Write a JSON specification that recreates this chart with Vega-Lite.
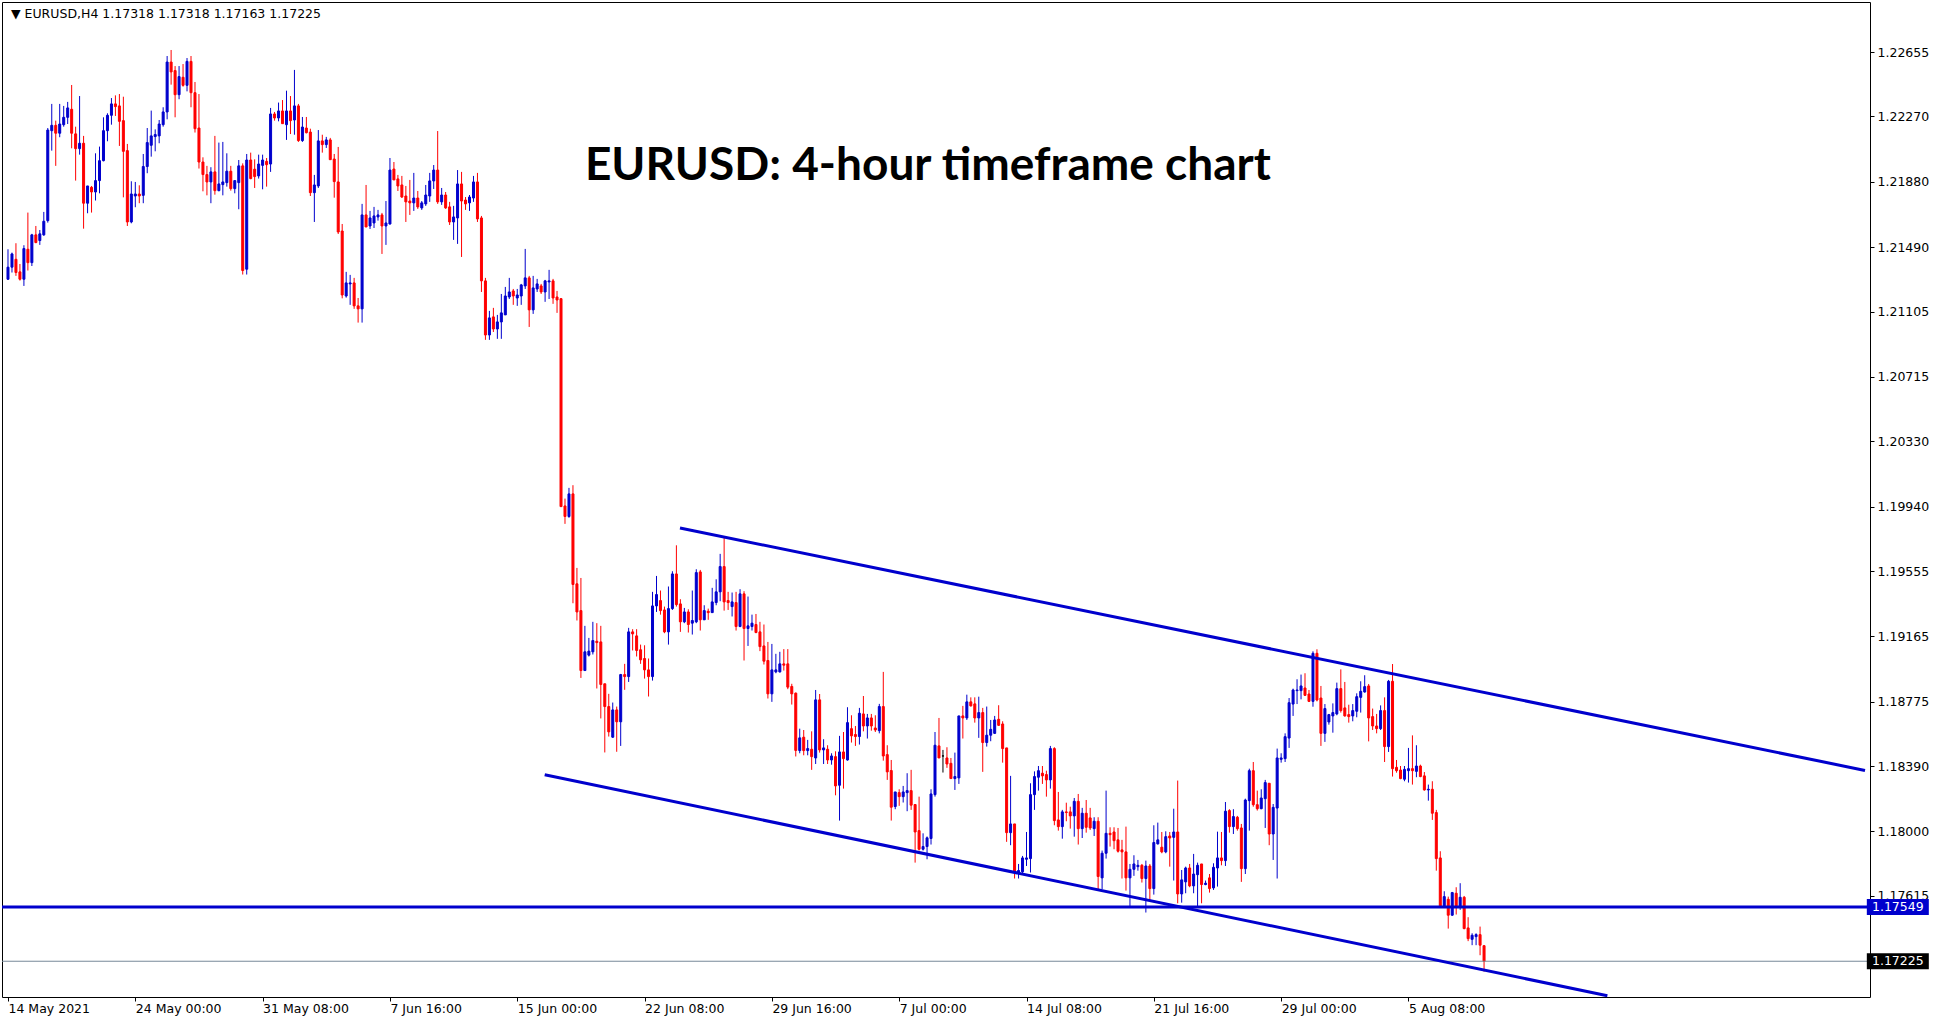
{
"$schema": "https://vega.github.io/schema/vega-lite/v6.json",
"width": 1868,
"height": 995,
"autosize": {"type": "none"},
"padding": {"left": 2, "top": 2, "right": 72, "bottom": 26},
"background": "white",
"config": {"view": {"stroke": "black", "strokeWidth": 1}, "font": "DejaVu Sans"},
"datasets": {
"candles": [
{"i":0,"o":1.21298,"h":1.21477,"l":1.21294,"c":1.2137},
{"i":1,"o":1.2137,"h":1.21457,"l":1.21338,"c":1.21449},
{"i":2,"o":1.21417,"h":1.21513,"l":1.21318,"c":1.21338},
{"i":3,"o":1.21342,"h":1.21389,"l":1.2129,"c":1.21298},
{"i":4,"o":1.21298,"h":1.21501,"l":1.21258,"c":1.21481},
{"i":5,"o":1.21477,"h":1.21696,"l":1.2135,"c":1.21397},
{"i":6,"o":1.21397,"h":1.21569,"l":1.21377,"c":1.21563},
{"i":7,"o":1.21563,"h":1.21616,"l":1.21513,"c":1.21517},
{"i":8,"o":1.21529,"h":1.21592,"l":1.21503,"c":1.21569},
{"i":9,"o":1.21563,"h":1.217,"l":1.21557,"c":1.21644},
{"i":10,"o":1.21648,"h":1.22201,"l":1.21636,"c":1.22189},
{"i":11,"o":1.22185,"h":1.22345,"l":1.22066,"c":1.22217},
{"i":12,"o":1.22217,"h":1.22245,"l":1.21975,"c":1.2217},
{"i":13,"o":1.2217,"h":1.22345,"l":1.22146,"c":1.22225},
{"i":14,"o":1.22221,"h":1.22333,"l":1.22209,"c":1.22265},
{"i":15,"o":1.22265,"h":1.22357,"l":1.22225,"c":1.22321},
{"i":16,"o":1.22313,"h":1.22458,"l":1.2208,"c":1.2217},
{"i":17,"o":1.22166,"h":1.22209,"l":1.21887,"c":1.22078},
{"i":18,"o":1.22078,"h":1.22392,"l":1.22042,"c":1.2211},
{"i":19,"o":1.2211,"h":1.22154,"l":1.216,"c":1.21752},
{"i":20,"o":1.21752,"h":1.21855,"l":1.21692,"c":1.21855},
{"i":21,"o":1.21847,"h":1.21855,"l":1.21696,"c":1.21819},
{"i":22,"o":1.21819,"h":1.2205,"l":1.21768,"c":1.21887},
{"i":23,"o":1.21887,"h":1.2209,"l":1.21811,"c":1.22006},
{"i":24,"o":1.22006,"h":1.22265,"l":1.22002,"c":1.22185},
{"i":25,"o":1.22185,"h":1.22289,"l":1.22122,"c":1.22277},
{"i":26,"o":1.22277,"h":1.2238,"l":1.22221,"c":1.22345},
{"i":27,"o":1.22345,"h":1.22396,"l":1.22273,"c":1.22329},
{"i":28,"o":1.22333,"h":1.22404,"l":1.22094,"c":1.22241},
{"i":29,"o":1.22245,"h":1.22388,"l":1.21787,"c":1.22062},
{"i":30,"o":1.22066,"h":1.22106,"l":1.21616,"c":1.2164},
{"i":31,"o":1.2164,"h":1.21883,"l":1.21632,"c":1.21807},
{"i":32,"o":1.21795,"h":1.21879,"l":1.21728,"c":1.21807},
{"i":33,"o":1.21807,"h":1.21859,"l":1.21752,"c":1.21795},
{"i":34,"o":1.21799,"h":1.22046,"l":1.21752,"c":1.21971},
{"i":35,"o":1.21971,"h":1.22201,"l":1.21931,"c":1.22114},
{"i":36,"o":1.22098,"h":1.22305,"l":1.2203,"c":1.22154},
{"i":37,"o":1.2215,"h":1.22193,"l":1.22062,"c":1.22162},
{"i":38,"o":1.22154,"h":1.22249,"l":1.2211,"c":1.22225},
{"i":39,"o":1.22221,"h":1.22325,"l":1.22209,"c":1.22297},
{"i":40,"o":1.22297,"h":1.22631,"l":1.22253,"c":1.22595},
{"i":41,"o":1.22595,"h":1.22667,"l":1.2246,"c":1.22536},
{"i":42,"o":1.22544,"h":1.22571,"l":1.22265,"c":1.224},
{"i":43,"o":1.224,"h":1.22571,"l":1.22373,"c":1.22508},
{"i":44,"o":1.22504,"h":1.22583,"l":1.22448,"c":1.22456},
{"i":45,"o":1.22456,"h":1.22619,"l":1.2242,"c":1.22599},
{"i":46,"o":1.22599,"h":1.22631,"l":1.22325,"c":1.22412},
{"i":47,"o":1.22412,"h":1.22476,"l":1.22174,"c":1.22197},
{"i":48,"o":1.22201,"h":1.22404,"l":1.21959,"c":1.21998},
{"i":49,"o":1.21998,"h":1.22026,"l":1.21823,"c":1.21923},
{"i":50,"o":1.21923,"h":1.21975,"l":1.21799,"c":1.21879},
{"i":51,"o":1.21879,"h":1.21967,"l":1.21752,"c":1.21939},
{"i":52,"o":1.21939,"h":1.22154,"l":1.21803,"c":1.21827},
{"i":53,"o":1.21827,"h":1.22114,"l":1.21823,"c":1.21867},
{"i":54,"o":1.21863,"h":1.22118,"l":1.21799,"c":1.21879},
{"i":55,"o":1.21875,"h":1.2205,"l":1.21851,"c":1.21943},
{"i":56,"o":1.21943,"h":1.21975,"l":1.21827,"c":1.21839},
{"i":57,"o":1.21839,"h":1.21887,"l":1.21811,"c":1.21887},
{"i":58,"o":1.21875,"h":1.2201,"l":1.21716,"c":1.21975},
{"i":59,"o":1.21975,"h":1.2199,"l":1.21326,"c":1.2135},
{"i":60,"o":1.21358,"h":1.22046,"l":1.21326,"c":1.2201},
{"i":61,"o":1.2201,"h":1.22054,"l":1.21895,"c":1.21899},
{"i":62,"o":1.21955,"h":1.22014,"l":1.21843,"c":1.21911},
{"i":63,"o":1.21915,"h":1.22042,"l":1.21899,"c":1.21986},
{"i":64,"o":1.21978,"h":1.22042,"l":1.21835,"c":1.2201},
{"i":65,"o":1.22002,"h":1.22022,"l":1.21851,"c":1.21982},
{"i":66,"o":1.21986,"h":1.22321,"l":1.21939,"c":1.22285},
{"i":67,"o":1.22285,"h":1.22297,"l":1.22245,"c":1.22261},
{"i":68,"o":1.22261,"h":1.22353,"l":1.22241,"c":1.22303},
{"i":69,"o":1.22303,"h":1.22368,"l":1.22225,"c":1.22227},
{"i":70,"o":1.22221,"h":1.22424,"l":1.2213,"c":1.22303},
{"i":71,"o":1.22303,"h":1.22392,"l":1.22165,"c":1.22245},
{"i":72,"o":1.22249,"h":1.22548,"l":1.22161,"c":1.22333},
{"i":73,"o":1.22333,"h":1.22345,"l":1.22118,"c":1.22126},
{"i":74,"o":1.22126,"h":1.22267,"l":1.22118,"c":1.22207},
{"i":75,"o":1.22201,"h":1.22267,"l":1.22169,"c":1.22173},
{"i":76,"o":1.22177,"h":1.22197,"l":1.21795,"c":1.21815},
{"i":77,"o":1.21815,"h":1.21921,"l":1.2164,"c":1.21861},
{"i":78,"o":1.21855,"h":1.22189,"l":1.21843,"c":1.22124},
{"i":79,"o":1.22124,"h":1.22161,"l":1.22054,"c":1.22102},
{"i":80,"o":1.22102,"h":1.22148,"l":1.22082,"c":1.2213},
{"i":81,"o":1.2213,"h":1.22142,"l":1.2201,"c":1.22012},
{"i":82,"o":1.22016,"h":1.22046,"l":1.21785,"c":1.21881},
{"i":83,"o":1.21879,"h":1.22088,"l":1.21568,"c":1.2158},
{"i":84,"o":1.21586,"h":1.21628,"l":1.21184,"c":1.21204},
{"i":85,"o":1.21198,"h":1.21342,"l":1.21188,"c":1.21276},
{"i":86,"o":1.2127,"h":1.21324,"l":1.21145,"c":1.21276},
{"i":87,"o":1.21276,"h":1.21306,"l":1.21121,"c":1.21139},
{"i":88,"o":1.21139,"h":1.21186,"l":1.21039,"c":1.21121},
{"i":89,"o":1.21121,"h":1.21748,"l":1.21039,"c":1.21682},
{"i":90,"o":1.21682,"h":1.21861,"l":1.2161,"c":1.2161},
{"i":91,"o":1.21616,"h":1.21706,"l":1.21598,"c":1.21664},
{"i":92,"o":1.21634,"h":1.2173,"l":1.21604,"c":1.21676},
{"i":93,"o":1.2167,"h":1.21712,"l":1.21648,"c":1.21682},
{"i":94,"o":1.21682,"h":1.21694,"l":1.21449,"c":1.21616},
{"i":95,"o":1.21616,"h":1.21765,"l":1.21503,"c":1.21634},
{"i":96,"o":1.21628,"h":1.22022,"l":1.21624,"c":1.2195},
{"i":97,"o":1.21956,"h":1.21998,"l":1.21891,"c":1.21891},
{"i":98,"o":1.21897,"h":1.21921,"l":1.21825,"c":1.21855},
{"i":99,"o":1.21861,"h":1.21915,"l":1.21783,"c":1.21789},
{"i":100,"o":1.21795,"h":1.21855,"l":1.2164,"c":1.2176},
{"i":101,"o":1.21765,"h":1.21891,"l":1.21682,"c":1.21754},
{"i":102,"o":1.21754,"h":1.21933,"l":1.21706,"c":1.21783},
{"i":103,"o":1.21783,"h":1.21825,"l":1.21718,"c":1.2173},
{"i":104,"o":1.21724,"h":1.21765,"l":1.21712,"c":1.21754},
{"i":105,"o":1.21748,"h":1.21861,"l":1.21736,"c":1.21801},
{"i":106,"o":1.21795,"h":1.21933,"l":1.2176,"c":1.21885},
{"i":107,"o":1.21885,"h":1.2198,"l":1.21837,"c":1.2195},
{"i":108,"o":1.2195,"h":1.22183,"l":1.21748,"c":1.2176},
{"i":109,"o":1.2176,"h":1.21843,"l":1.21742,"c":1.21801},
{"i":110,"o":1.21801,"h":1.21819,"l":1.21718,"c":1.21724},
{"i":111,"o":1.2173,"h":1.2176,"l":1.21622,"c":1.2164},
{"i":112,"o":1.2164,"h":1.21736,"l":1.21533,"c":1.2167},
{"i":113,"o":1.21664,"h":1.2195,"l":1.21509,"c":1.21867},
{"i":114,"o":1.21867,"h":1.21939,"l":1.21431,"c":1.21765},
{"i":115,"o":1.21771,"h":1.21789,"l":1.21712,"c":1.21748},
{"i":116,"o":1.21754,"h":1.21801,"l":1.21706,"c":1.21789},
{"i":117,"o":1.21783,"h":1.21915,"l":1.2176,"c":1.21879},
{"i":118,"o":1.21879,"h":1.21933,"l":1.2164,"c":1.21658},
{"i":119,"o":1.21664,"h":1.21676,"l":1.21222,"c":1.21288},
{"i":120,"o":1.21288,"h":1.21306,"l":1.20936,"c":1.20965},
{"i":121,"o":1.20965,"h":1.21109,"l":1.20936,"c":1.21067},
{"i":122,"o":1.21073,"h":1.21127,"l":1.20983,"c":1.21001},
{"i":123,"o":1.21001,"h":1.21085,"l":1.20942,"c":1.21043},
{"i":124,"o":1.21043,"h":1.2121,"l":1.20942,"c":1.21097},
{"i":125,"o":1.21085,"h":1.21252,"l":1.21085,"c":1.21198},
{"i":126,"o":1.21192,"h":1.21306,"l":1.2118,"c":1.21222},
{"i":127,"o":1.21228,"h":1.2124,"l":1.21145,"c":1.21198},
{"i":128,"o":1.21186,"h":1.2124,"l":1.21139,"c":1.21204},
{"i":129,"o":1.21198,"h":1.2127,"l":1.21145,"c":1.21264},
{"i":130,"o":1.21258,"h":1.21479,"l":1.2124,"c":1.21306},
{"i":131,"o":1.21306,"h":1.21318,"l":1.21013,"c":1.21115},
{"i":132,"o":1.21115,"h":1.21318,"l":1.21091,"c":1.21246},
{"i":133,"o":1.2124,"h":1.213,"l":1.21222,"c":1.2127},
{"i":134,"o":1.21258,"h":1.2127,"l":1.2121,"c":1.21222},
{"i":135,"o":1.21222,"h":1.21294,"l":1.21163,"c":1.21288},
{"i":136,"o":1.21282,"h":1.21354,"l":1.2118,"c":1.21288},
{"i":137,"o":1.21288,"h":1.213,"l":1.21151,"c":1.21186},
{"i":138,"o":1.21192,"h":1.21228,"l":1.21097,"c":1.21174},
{"i":139,"o":1.21182,"h":1.21182,"l":1.1994,"c":1.1994},
{"i":140,"o":1.19944,"h":1.19988,"l":1.19837,"c":1.19881},
{"i":141,"o":1.19881,"h":1.20052,"l":1.19873,"c":1.20016},
{"i":142,"o":1.20016,"h":1.20068,"l":1.19363,"c":1.19475},
{"i":143,"o":1.19479,"h":1.19574,"l":1.1926,"c":1.19311},
{"i":144,"o":1.19319,"h":1.19514,"l":1.18917,"c":1.18961},
{"i":145,"o":1.18961,"h":1.19228,"l":1.18961,"c":1.19073},
{"i":146,"o":1.19053,"h":1.19156,"l":1.19045,"c":1.19077},
{"i":147,"o":1.19073,"h":1.19252,"l":1.19057,"c":1.1914},
{"i":148,"o":1.19136,"h":1.19244,"l":1.18854,"c":1.19128},
{"i":149,"o":1.19132,"h":1.19228,"l":1.18675,"c":1.18878},
{"i":150,"o":1.18882,"h":1.18882,"l":1.18472,"c":1.18746},
{"i":151,"o":1.18746,"h":1.18822,"l":1.18567,"c":1.18595},
{"i":152,"o":1.18563,"h":1.1877,"l":1.18559,"c":1.18726},
{"i":153,"o":1.18726,"h":1.18746,"l":1.18476,"c":1.18655},
{"i":154,"o":1.18655,"h":1.18941,"l":1.18511,"c":1.18937},
{"i":155,"o":1.18937,"h":1.19001,"l":1.18846,"c":1.18925},
{"i":156,"o":1.18925,"h":1.19216,"l":1.18893,"c":1.19192},
{"i":157,"o":1.19192,"h":1.19208,"l":1.19081,"c":1.1918},
{"i":158,"o":1.19168,"h":1.19208,"l":1.19045,"c":1.19081},
{"i":159,"o":1.19085,"h":1.19116,"l":1.19001,"c":1.19025},
{"i":160,"o":1.19033,"h":1.19112,"l":1.18913,"c":1.18965},
{"i":161,"o":1.18965,"h":1.19033,"l":1.18806,"c":1.18925},
{"i":162,"o":1.18925,"h":1.19431,"l":1.18901,"c":1.19347},
{"i":163,"o":1.19347,"h":1.19526,"l":1.19311,"c":1.19415},
{"i":164,"o":1.19379,"h":1.19439,"l":1.19295,"c":1.19319},
{"i":165,"o":1.19323,"h":1.19343,"l":1.19184,"c":1.19192},
{"i":166,"o":1.19192,"h":1.19463,"l":1.19116,"c":1.19331},
{"i":167,"o":1.19331,"h":1.19554,"l":1.19323,"c":1.19538},
{"i":168,"o":1.19538,"h":1.19709,"l":1.19343,"c":1.19355},
{"i":169,"o":1.19359,"h":1.19387,"l":1.19192,"c":1.19252},
{"i":170,"o":1.19252,"h":1.19335,"l":1.19244,"c":1.19311},
{"i":171,"o":1.19311,"h":1.19327,"l":1.19188,"c":1.19236},
{"i":172,"o":1.19244,"h":1.19439,"l":1.19176,"c":1.1926},
{"i":173,"o":1.19252,"h":1.19566,"l":1.19244,"c":1.19546},
{"i":174,"o":1.1955,"h":1.19562,"l":1.192,"c":1.19264},
{"i":175,"o":1.19264,"h":1.19351,"l":1.19264,"c":1.19319},
{"i":176,"o":1.19315,"h":1.19331,"l":1.19264,"c":1.19307},
{"i":177,"o":1.19307,"h":1.19455,"l":1.19307,"c":1.19371},
{"i":178,"o":1.19367,"h":1.19506,"l":1.19351,"c":1.19431},
{"i":179,"o":1.19431,"h":1.19658,"l":1.19375,"c":1.19582},
{"i":180,"o":1.19582,"h":1.19753,"l":1.19319,"c":1.19371},
{"i":181,"o":1.19379,"h":1.19431,"l":1.19323,"c":1.19367},
{"i":182,"o":1.19343,"h":1.19427,"l":1.19284,"c":1.19371},
{"i":183,"o":1.19367,"h":1.19431,"l":1.192,"c":1.19224},
{"i":184,"o":1.19224,"h":1.19447,"l":1.1922,"c":1.19419},
{"i":185,"o":1.19419,"h":1.19435,"l":1.19021,"c":1.19212},
{"i":186,"o":1.19212,"h":1.19403,"l":1.19108,"c":1.19228},
{"i":187,"o":1.19224,"h":1.19295,"l":1.192,"c":1.19244},
{"i":188,"o":1.19236,"h":1.19299,"l":1.19184,"c":1.19188},
{"i":189,"o":1.19192,"h":1.19252,"l":1.19077,"c":1.19104},
{"i":190,"o":1.19108,"h":1.19236,"l":1.18997,"c":1.19017},
{"i":191,"o":1.19021,"h":1.19132,"l":1.18794,"c":1.18822},
{"i":192,"o":1.18822,"h":1.1912,"l":1.18774,"c":1.18965},
{"i":193,"o":1.18953,"h":1.19061,"l":1.18945,"c":1.18965},
{"i":194,"o":1.18953,"h":1.19073,"l":1.18949,"c":1.19001},
{"i":195,"o":1.19001,"h":1.19089,"l":1.18961,"c":1.18993},
{"i":196,"o":1.19001,"h":1.19089,"l":1.1885,"c":1.18862},
{"i":197,"o":1.18866,"h":1.18882,"l":1.18758,"c":1.18822},
{"i":198,"o":1.18826,"h":1.1883,"l":1.18448,"c":1.18484},
{"i":199,"o":1.18483,"h":1.18614,"l":1.18467,"c":1.18559},
{"i":200,"o":1.18563,"h":1.18606,"l":1.18455,"c":1.18483},
{"i":201,"o":1.18483,"h":1.18547,"l":1.18455,"c":1.18495},
{"i":202,"o":1.18491,"h":1.18598,"l":1.18368,"c":1.18447},
{"i":203,"o":1.18439,"h":1.18845,"l":1.18403,"c":1.18786},
{"i":204,"o":1.18786,"h":1.18821,"l":1.18471,"c":1.18487},
{"i":205,"o":1.18487,"h":1.18551,"l":1.18403,"c":1.18499},
{"i":206,"o":1.18491,"h":1.18515,"l":1.18403,"c":1.18427},
{"i":207,"o":1.18427,"h":1.18467,"l":1.18399,"c":1.18451},
{"i":208,"o":1.18447,"h":1.18479,"l":1.18216,"c":1.18272},
{"i":209,"o":1.18276,"h":1.18571,"l":1.18065,"c":1.18475},
{"i":210,"o":1.18475,"h":1.18594,"l":1.18256,"c":1.18435},
{"i":211,"o":1.18427,"h":1.18742,"l":1.18423,"c":1.1865},
{"i":212,"o":1.18614,"h":1.18694,"l":1.18531,"c":1.18571},
{"i":213,"o":1.18579,"h":1.1863,"l":1.18511,"c":1.18567},
{"i":214,"o":1.18567,"h":1.18738,"l":1.18519,"c":1.18706},
{"i":215,"o":1.18702,"h":1.18809,"l":1.18598,"c":1.1863},
{"i":216,"o":1.1863,"h":1.18702,"l":1.18555,"c":1.18678},
{"i":217,"o":1.18678,"h":1.18702,"l":1.18602,"c":1.1863},
{"i":218,"o":1.18618,"h":1.18694,"l":1.18594,"c":1.18606},
{"i":219,"o":1.18602,"h":1.18762,"l":1.18586,"c":1.18746},
{"i":220,"o":1.18746,"h":1.18953,"l":1.18423,"c":1.18451},
{"i":221,"o":1.18459,"h":1.18515,"l":1.18308,"c":1.18356},
{"i":222,"o":1.18364,"h":1.18427,"l":1.18065,"c":1.18145},
{"i":223,"o":1.18149,"h":1.18236,"l":1.18133,"c":1.18236},
{"i":224,"o":1.18232,"h":1.18252,"l":1.18153,"c":1.18208},
{"i":225,"o":1.18208,"h":1.18272,"l":1.18173,"c":1.18236},
{"i":226,"o":1.18232,"h":1.18348,"l":1.18121,"c":1.18244},
{"i":227,"o":1.18244,"h":1.18368,"l":1.18129,"c":1.18157},
{"i":228,"o":1.18161,"h":1.18161,"l":1.17814,"c":1.17997},
{"i":229,"o":1.18005,"h":1.18208,"l":1.17886,"c":1.17894},
{"i":230,"o":1.17894,"h":1.17989,"l":1.17886,"c":1.1791},
{"i":231,"o":1.1791,"h":1.1797,"l":1.17834,"c":1.17962},
{"i":232,"o":1.17958,"h":1.18252,"l":1.17922,"c":1.18224},
{"i":233,"o":1.1822,"h":1.18594,"l":1.18208,"c":1.18515},
{"i":234,"o":1.18511,"h":1.18678,"l":1.18439,"c":1.18439},
{"i":235,"o":1.18451,"h":1.18487,"l":1.18352,"c":1.18451},
{"i":236,"o":1.18439,"h":1.18503,"l":1.1838,"c":1.18403},
{"i":237,"o":1.18407,"h":1.18439,"l":1.18316,"c":1.18316},
{"i":238,"o":1.18316,"h":1.18471,"l":1.18248,"c":1.18328},
{"i":239,"o":1.1832,"h":1.1869,"l":1.18284,"c":1.1869},
{"i":240,"o":1.1869,"h":1.1875,"l":1.18555,"c":1.18678},
{"i":241,"o":1.18678,"h":1.18817,"l":1.18666,"c":1.18774},
{"i":242,"o":1.18774,"h":1.18801,"l":1.18746,"c":1.1875},
{"i":243,"o":1.18762,"h":1.18801,"l":1.1865,"c":1.18678},
{"i":244,"o":1.18678,"h":1.18805,"l":1.18559,"c":1.1871},
{"i":245,"o":1.1871,"h":1.18738,"l":1.18356,"c":1.18531},
{"i":246,"o":1.18531,"h":1.18746,"l":1.18507,"c":1.18575},
{"i":247,"o":1.18575,"h":1.18666,"l":1.18539,"c":1.1861},
{"i":248,"o":1.18586,"h":1.1869,"l":1.18582,"c":1.18666},
{"i":249,"o":1.1867,"h":1.18754,"l":1.1863,"c":1.18634},
{"i":250,"o":1.18642,"h":1.18658,"l":1.18411,"c":1.18495},
{"i":251,"o":1.18499,"h":1.18499,"l":1.17938,"c":1.17993},
{"i":252,"o":1.17993,"h":1.18332,"l":1.17918,"c":1.18045},
{"i":253,"o":1.18045,"h":1.18045,"l":1.17719,"c":1.17755},
{"i":254,"o":1.17755,"h":1.17806,"l":1.17719,"c":1.17767},
{"i":255,"o":1.17759,"h":1.17854,"l":1.17751,"c":1.17842},
{"i":256,"o":1.17834,"h":1.17997,"l":1.17794,"c":1.17842},
{"i":257,"o":1.17838,"h":1.18288,"l":1.17755,"c":1.1822},
{"i":258,"o":1.1822,"h":1.18359,"l":1.18129,"c":1.18328},
{"i":259,"o":1.18324,"h":1.18391,"l":1.18244,"c":1.18363},
{"i":260,"o":1.18348,"h":1.18391,"l":1.18284,"c":1.18332},
{"i":261,"o":1.1834,"h":1.18363,"l":1.18208,"c":1.18308},
{"i":262,"o":1.18308,"h":1.18511,"l":1.18256,"c":1.18495},
{"i":263,"o":1.18495,"h":1.18503,"l":1.18037,"c":1.18065},
{"i":264,"o":1.18069,"h":1.18236,"l":1.18005,"c":1.18029},
{"i":265,"o":1.18029,"h":1.18129,"l":1.17957,"c":1.18117},
{"i":266,"o":1.18117,"h":1.18172,"l":1.18061,"c":1.18113},
{"i":267,"o":1.18117,"h":1.18148,"l":1.18017,"c":1.18093},
{"i":268,"o":1.18093,"h":1.182,"l":1.17969,"c":1.1818},
{"i":269,"o":1.1818,"h":1.18224,"l":1.17922,"c":1.18017},
{"i":270,"o":1.18017,"h":1.18141,"l":1.17961,"c":1.18109},
{"i":271,"o":1.18109,"h":1.18188,"l":1.17993,"c":1.18025},
{"i":272,"o":1.18081,"h":1.18141,"l":1.18009,"c":1.18021},
{"i":273,"o":1.18017,"h":1.18085,"l":1.17973,"c":1.18061},
{"i":274,"o":1.18061,"h":1.18085,"l":1.17655,"c":1.17731},
{"i":275,"o":1.17723,"h":1.17886,"l":1.17655,"c":1.1787},
{"i":276,"o":1.1787,"h":1.18244,"l":1.17838,"c":1.17989},
{"i":277,"o":1.17989,"h":1.18025,"l":1.1791,"c":1.17981},
{"i":278,"o":1.17997,"h":1.18025,"l":1.17894,"c":1.17945},
{"i":279,"o":1.1795,"h":1.18021,"l":1.17874,"c":1.17882},
{"i":280,"o":1.1789,"h":1.1795,"l":1.17719,"c":1.17878},
{"i":281,"o":1.17878,"h":1.18029,"l":1.17647,"c":1.17723},
{"i":282,"o":1.17723,"h":1.17806,"l":1.17551,"c":1.17774},
{"i":283,"o":1.17774,"h":1.17858,"l":1.17735,"c":1.17806},
{"i":284,"o":1.1779,"h":1.1783,"l":1.17766,"c":1.17798},
{"i":285,"o":1.17798,"h":1.17806,"l":1.17695,"c":1.17719},
{"i":286,"o":1.17719,"h":1.17826,"l":1.17516,"c":1.17794},
{"i":287,"o":1.17794,"h":1.17806,"l":1.17591,"c":1.17659},
{"i":288,"o":1.17659,"h":1.18037,"l":1.17623,"c":1.17934},
{"i":289,"o":1.17926,"h":1.18053,"l":1.17922,"c":1.1795},
{"i":290,"o":1.17906,"h":1.17997,"l":1.1787,"c":1.17878},
{"i":291,"o":1.17878,"h":1.18001,"l":1.1787,"c":1.17969},
{"i":292,"o":1.17973,"h":1.17997,"l":1.1779,"c":1.17961},
{"i":293,"o":1.17965,"h":1.18136,"l":1.17707,"c":1.17997},
{"i":294,"o":1.17997,"h":1.18304,"l":1.17571,"c":1.17627},
{"i":295,"o":1.17627,"h":1.1777,"l":1.17575,"c":1.17711},
{"i":296,"o":1.17699,"h":1.1779,"l":1.17631,"c":1.17782},
{"i":297,"o":1.17782,"h":1.17806,"l":1.17667,"c":1.17675},
{"i":298,"o":1.17675,"h":1.17866,"l":1.17631,"c":1.17746},
{"i":299,"o":1.17742,"h":1.17814,"l":1.17551,"c":1.17798},
{"i":300,"o":1.17806,"h":1.17806,"l":1.17571,"c":1.17683},
{"i":301,"o":1.17683,"h":1.17707,"l":1.17679,"c":1.17691},
{"i":302,"o":1.17723,"h":1.17746,"l":1.17635,"c":1.17659},
{"i":303,"o":1.17663,"h":1.1781,"l":1.17651,"c":1.17786},
{"i":304,"o":1.17782,"h":1.17999,"l":1.17671,"c":1.17842},
{"i":305,"o":1.17842,"h":1.17997,"l":1.17798,"c":1.17826},
{"i":306,"o":1.17826,"h":1.18176,"l":1.17794,"c":1.18121},
{"i":307,"o":1.18125,"h":1.18133,"l":1.17993,"c":1.18029},
{"i":308,"o":1.18029,"h":1.18133,"l":1.17985,"c":1.18089},
{"i":309,"o":1.18085,"h":1.18093,"l":1.18005,"c":1.18017},
{"i":310,"o":1.18021,"h":1.18045,"l":1.17699,"c":1.17778},
{"i":311,"o":1.17778,"h":1.18196,"l":1.17746,"c":1.18188},
{"i":312,"o":1.18184,"h":1.18375,"l":1.18005,"c":1.18363},
{"i":313,"o":1.18363,"h":1.18415,"l":1.18148,"c":1.1816},
{"i":314,"o":1.1816,"h":1.18244,"l":1.18125,"c":1.18136},
{"i":315,"o":1.18136,"h":1.18252,"l":1.18133,"c":1.182},
{"i":316,"o":1.18196,"h":1.18308,"l":1.18021,"c":1.18292},
{"i":317,"o":1.18288,"h":1.18288,"l":1.17918,"c":1.17985},
{"i":318,"o":1.17985,"h":1.18164,"l":1.1783,"c":1.18144},
{"i":319,"o":1.1814,"h":1.18495,"l":1.17719,"c":1.18439},
{"i":320,"o":1.18431,"h":1.18467,"l":1.18411,"c":1.18439},
{"i":321,"o":1.18435,"h":1.18586,"l":1.18415,"c":1.18566},
{"i":322,"o":1.18558,"h":1.18797,"l":1.18499,"c":1.18769},
{"i":323,"o":1.18761,"h":1.18853,"l":1.1869,"c":1.18845},
{"i":324,"o":1.18841,"h":1.18909,"l":1.18761,"c":1.18845},
{"i":325,"o":1.18841,"h":1.18937,"l":1.18789,"c":1.18869},
{"i":326,"o":1.18857,"h":1.18945,"l":1.18809,"c":1.18813},
{"i":327,"o":1.18821,"h":1.18845,"l":1.18773,"c":1.18777},
{"i":328,"o":1.18777,"h":1.19076,"l":1.18745,"c":1.19064},
{"i":329,"o":1.19064,"h":1.19088,"l":1.18777,"c":1.18785},
{"i":330,"o":1.18797,"h":1.18869,"l":1.18511,"c":1.18586},
{"i":331,"o":1.18586,"h":1.18761,"l":1.18535,"c":1.18734},
{"i":332,"o":1.18654,"h":1.18702,"l":1.18638,"c":1.18698},
{"i":333,"o":1.1869,"h":1.18765,"l":1.1859,"c":1.1871},
{"i":334,"o":1.18702,"h":1.18889,"l":1.18694,"c":1.18853},
{"i":335,"o":1.18853,"h":1.18968,"l":1.1871,"c":1.18722},
{"i":336,"o":1.18738,"h":1.18893,"l":1.18686,"c":1.1869},
{"i":337,"o":1.18698,"h":1.18757,"l":1.1865,"c":1.18686},
{"i":338,"o":1.1869,"h":1.18761,"l":1.18658,"c":1.18722},
{"i":339,"o":1.18718,"h":1.18825,"l":1.18682,"c":1.18805},
{"i":340,"o":1.18801,"h":1.18897,"l":1.1871,"c":1.18837},
{"i":341,"o":1.18833,"h":1.18933,"l":1.18829,"c":1.18865},
{"i":342,"o":1.18869,"h":1.18881,"l":1.18538,"c":1.18678},
{"i":343,"o":1.18686,"h":1.18734,"l":1.18606,"c":1.1863},
{"i":344,"o":1.1863,"h":1.18702,"l":1.18586,"c":1.18614},
{"i":345,"o":1.18614,"h":1.18753,"l":1.18606,"c":1.18722},
{"i":346,"o":1.18722,"h":1.18801,"l":1.18415,"c":1.18507},
{"i":347,"o":1.18507,"h":1.18905,"l":1.18475,"c":1.18897},
{"i":348,"o":1.18897,"h":1.19,"l":1.18328,"c":1.18375},
{"i":349,"o":1.18383,"h":1.18427,"l":1.18351,"c":1.18363},
{"i":350,"o":1.18367,"h":1.18391,"l":1.18312,"c":1.18316},
{"i":351,"o":1.18312,"h":1.18391,"l":1.183,"c":1.18371},
{"i":352,"o":1.18363,"h":1.18499,"l":1.18292,"c":1.18375},
{"i":353,"o":1.18375,"h":1.18574,"l":1.1828,"c":1.18363},
{"i":354,"o":1.18359,"h":1.18515,"l":1.18324,"c":1.18391},
{"i":355,"o":1.18391,"h":1.18399,"l":1.18324,"c":1.18328},
{"i":356,"o":1.18332,"h":1.18355,"l":1.18244,"c":1.18248},
{"i":357,"o":1.18248,"h":1.1828,"l":1.18184,"c":1.18252},
{"i":358,"o":1.18252,"h":1.183,"l":1.18069,"c":1.18109},
{"i":359,"o":1.18113,"h":1.18129,"l":1.17766,"c":1.17838},
{"i":360,"o":1.17842,"h":1.17882,"l":1.17551,"c":1.17551},
{"i":361,"o":1.17551,"h":1.17643,"l":1.17547,"c":1.17611},
{"i":362,"o":1.17595,"h":1.17611,"l":1.1742,"c":1.175},
{"i":363,"o":1.175,"h":1.17639,"l":1.17496,"c":1.17635},
{"i":364,"o":1.17631,"h":1.17667,"l":1.17504,"c":1.17551},
{"i":365,"o":1.17551,"h":1.17691,"l":1.17532,"c":1.17607},
{"i":366,"o":1.17607,"h":1.17615,"l":1.17416,"c":1.1742},
{"i":367,"o":1.17424,"h":1.17488,"l":1.17345,"c":1.1736},
{"i":368,"o":1.17356,"h":1.17392,"l":1.17321,"c":1.1738},
{"i":369,"o":1.17372,"h":1.17392,"l":1.17321,"c":1.17384},
{"i":370,"o":1.17384,"h":1.17432,"l":1.17261,"c":1.17321},
{"i":371,"o":1.17318,"h":1.17318,"l":1.17163,"c":1.17225}
],
"trend": [
{"x1":168.9,"p1":1.198123,"x2":466.75,"p2":1.183647},
{"x1":134.9,"p1":1.18339,"x2":402,"p2":1.170193}
],
"levels": [
{"p":1.17549,"label":"1.17549","kind":"level"},
{"p":1.17225,"label":"1.17225","kind":"bid"}
]
},
"layer": [
{
"data": {"name": "candles"},
"mark": {"type": "rule", "strokeWidth": 1},
"encoding": {
"x": {"field": "i", "type": "quantitative",
"scale": {"domain": [-0.25, 466.75], "nice": false, "zero": false},
"axis": {"orient": "bottom", "values": [0,32,64,96,128,160,192,224,256,288,320,352],
"labelExpr": "['14 May 2021','24 May 00:00','31 May 08:00','7 Jun 16:00','15 Jun 00:00','22 Jun 08:00','29 Jun 16:00','7 Jul 00:00','14 Jul 08:00','21 Jul 16:00','29 Jul 00:00','5 Aug 08:00'][round(datum.value/32)]",
"title": null, "grid": false, "domain": false, "tickSize": 4, "tickColor": "black",
"labelAlign": "left", "labelBaseline": "top", "labelPadding": 1, "labelFont": "DejaVu Sans",
"labelFontSize": 12.5, "labelColor": "black", "labelOverlap": false, "labelFlush": false}},
"y": {"field": "l", "type": "quantitative",
"scale": {"domain": [1.170115, 1.229536], "nice": false, "zero": false},
"axis": {"orient": "right", "values": [1.17615,1.18,1.1839,1.18775,1.19165,1.19555,1.1994,1.2033,1.20715,1.21105,1.2149,1.2188,1.2227,1.22655],
"labelExpr": "format(datum.value + 0.0000001, '.5f')", "title": null, "grid": false, "domain": false, "tickSize": 4, "tickColor": "black",
"labelPadding": 3, "labelFont": "DejaVu Sans", "labelFontSize": 12.5, "labelColor": "black",
"labelOverlap": false, "labelFlush": false, "labelBaseline": "middle"}},
"y2": {"field": "h"},
"color": {"condition": [{"test": "datum.c > datum.o", "value": "#0000cd"}, {"test": "datum.c < datum.o", "value": "#ff0000"}], "value": "#000000"}
}
},
{
"data": {"name": "candles"},
"mark": {"type": "bar", "width": 2, "strokeWidth": 1},
"encoding": {
"x": {"field": "i", "type": "quantitative"},
"y": {"field": "o", "type": "quantitative"},
"y2": {"field": "c"},
"fill": {"condition": [{"test": "datum.c > datum.o", "value": "#0000cd"}, {"test": "datum.c < datum.o", "value": "#ff0000"}], "value": "#000000"},
"stroke": {"condition": [{"test": "datum.c > datum.o", "value": "#0000cd"}, {"test": "datum.c < datum.o", "value": "#ff0000"}], "value": "#000000"}
}
},
{
"data": {"name": "levels"},
"transform": [{"filter": "datum.kind == 'bid'"}],
"mark": {"type": "rule", "color": "#778899", "strokeWidth": 1},
"encoding": {"y": {"field": "p", "type": "quantitative"}}
},
{
"data": {"name": "levels"},
"transform": [{"filter": "datum.kind == 'level'"}],
"mark": {"type": "rule", "color": "#0000cd", "strokeWidth": 3},
"encoding": {"y": {"field": "p", "type": "quantitative"}}
},
{
"data": {"name": "trend"},
"mark": {"type": "rule", "color": "#0000cd", "strokeWidth": 3},
"encoding": {
"x": {"field": "x1", "type": "quantitative"},
"y": {"field": "p1", "type": "quantitative"},
"x2": {"field": "x2"},
"y2": {"field": "p2"}
}
},
{
"data": {"name": "levels"},
"mark": {"type": "tick", "orient": "horizontal", "size": 62, "thickness": 16, "opacity": 1},
"encoding": {
"x": {"datum": 475},
"y": {"field": "p", "type": "quantitative"},
"color": {"condition": {"test": "datum.kind == 'level'", "value": "#0000cd"}, "value": "#000000"}
}
},
{
"data": {"name": "levels"},
"mark": {"type": "text", "align": "center", "baseline": "middle", "font": "DejaVu Sans", "fontSize": 12.5, "color": "white"},
"encoding": {
"x": {"datum": 475},
"y": {"field": "p", "type": "quantitative"},
"text": {"field": "label"}
}
},
{
"data": {"values": [{"t": "▼  EURUSD,H4  1.17318 1.17318 1.17163 1.17225"}]},
"mark": {"type": "text", "align": "left", "baseline": "middle", "font": "DejaVu Sans", "fontSize": 12.5, "color": "black"},
"encoding": {
"x": {"datum": 0.75},
"y": {"datum": 1.22882},
"text": {"field": "t"}
}
},
{
"data": {"values": [{"t": "EURUSD: 4-hour timeframe chart"}]},
"mark": {"type": "text", "align": "left", "baseline": "alphabetic", "font": "Lato", "fontWeight": "bold", "fontSize": 46, "color": "black"},
"encoding": {
"x": {"datum": 145},
"y": {"datum": 1.21888},
"text": {"field": "t"}
}
}
]
}
